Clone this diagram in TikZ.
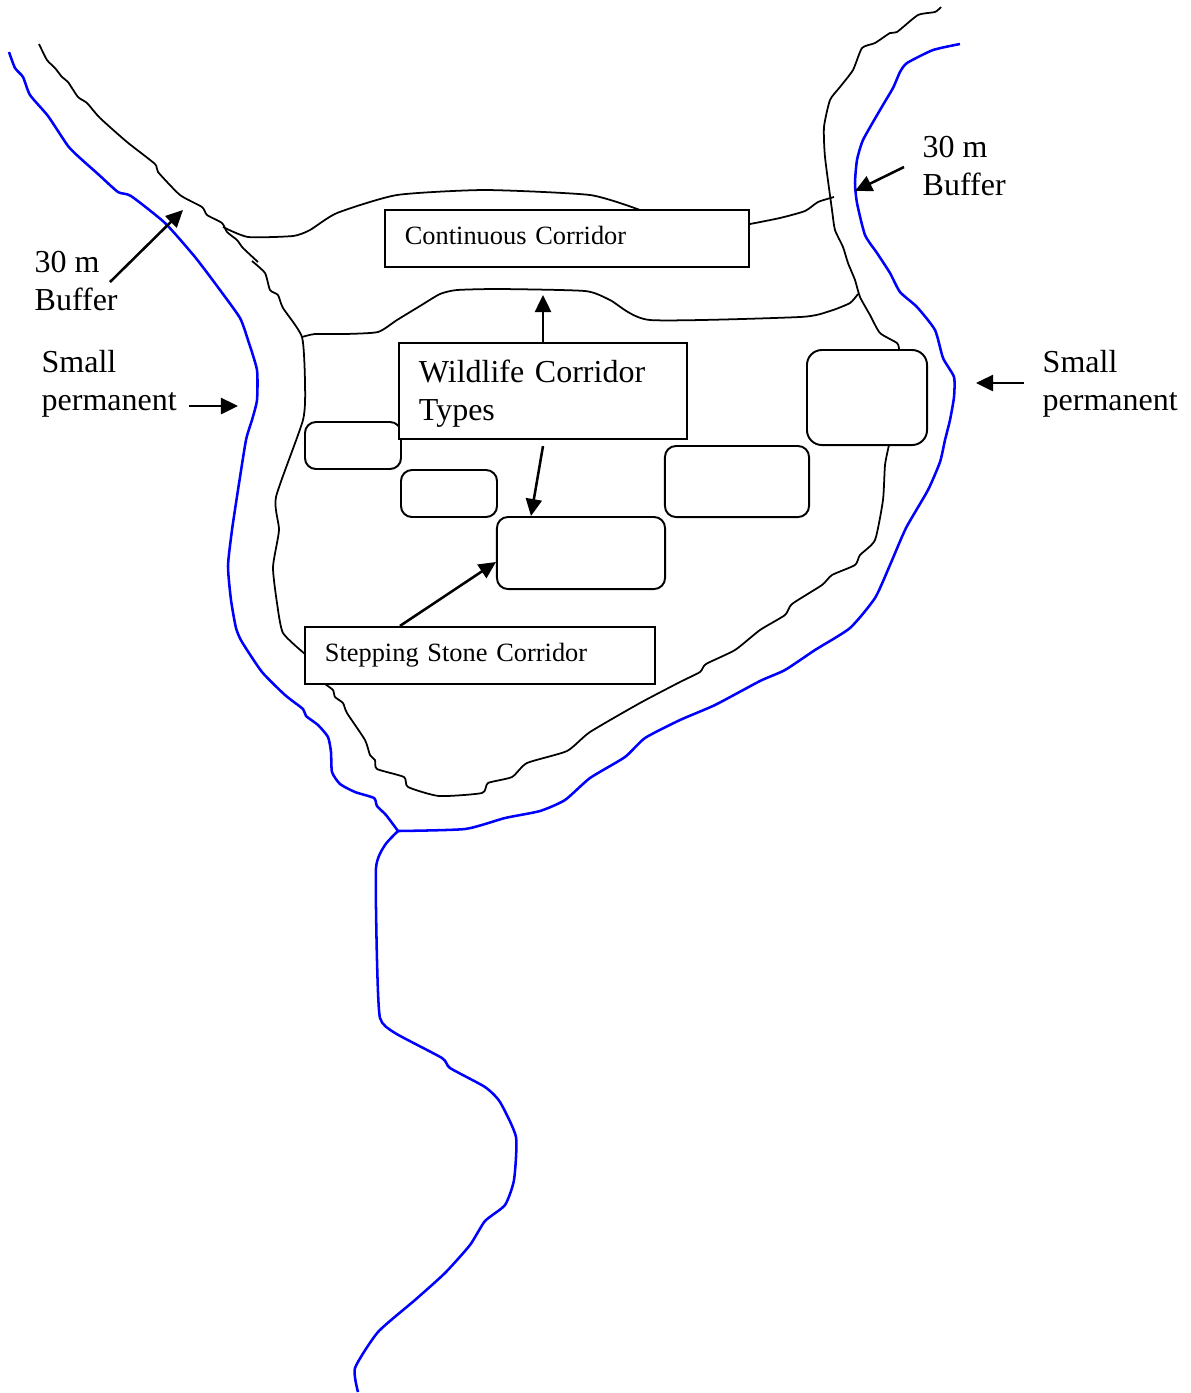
\documentclass[tikz,border=0pt]{standalone}
\usepackage{fontspec}
\setmainfont{Liberation Serif}
\usetikzlibrary{arrows.meta}
\tikzset{
    stream/.style={draw=blue, line width=0.72pt, line join=round, smooth, tension=0.35},
    margin/.style={draw=black, line width=0.5pt, line join=round, smooth, tension=0.35},
    labelbox/.style={rectangle, draw, fill=white, line width=0.6pt, align=left, inner xsep=0.2cm, inner ysep=0pt},
    patchbox/.style={rectangle, draw, fill=white, line width=0.55pt, rounded corners=0.11cm},
    sidelabel/.style={align=left, anchor=west, inner sep=0pt, font=\fontsize{9.1}{10.8}\selectfont},
    pointer/.style={line width=0.72pt, -{Triangle[length=0.17cm,width=0.16cm]}}
}
\begin{document}
\begin{tikzpicture}[x=0.01cm, y=-0.01cm]
    \useasboundingbox (0,0) rectangle (1191,1393);
    % river
    \draw[stream] plot coordinates {(9,52) (15,68) (23,77) (30,95) (48,116) (68,146) (80,158) (98,174) (118,192) (131,196) (165,223) (195,257) (220,290) (240,318) (248,340) (257,370) (257,400) (252,420) (246,440) (238,490) (232,530) (228,566) (231,600) (236,628) (242,642) (262,672) (285,695) (303,709) (306,716) (318,725) (328,737) (331,752) (332,772) (340,784) (355,792) (374,798) (377,806) (386,815) (398,831)};
    \draw[stream] plot coordinates {(398,831) (465,829) (505,818) (540,811) (565,800) (590,778) (625,757) (645,738) (680,720) (715,705) (760,681) (785,670) (815,650) (850,628) (875,598) (890,565) (906,528) (928,490) (940,462) (945,440) (950,420) (954,397) (954,377) (943,358) (935,330) (917,307) (900,292) (890,273) (877,253) (865,235) (857,203) (855,183) (857,160) (863,140) (880,110) (893,88) (900,72) (907,63) (933,50) (960,44)};
    \draw[stream] plot coordinates {(398,831) (385,845) (376,868) (377,960) (380,1018) (395,1033) (442,1058) (450,1068) (485,1087) (500,1102) (516,1137) (514,1180) (505,1205) (485,1221) (470,1245) (445,1273) (415,1300) (378,1332) (355,1368) (358,1392)};
    % buffer edge
    \draw[margin] plot coordinates {(39,44) (47,60) (55,68) (62,77) (68,82) (78,97) (87,103) (100,118) (127,142) (155,164) (158,172) (180,195) (202,207) (207,215) (222,223) (227,232) (237,240) (243,248) (258,262)};
    \draw[margin] plot coordinates {(252,261) (265,273) (270,290) (278,295) (283,308) (302,337) (305,383) (303,420) (276,497) (279,530) (273,567) (277,603) (283,633) (305,654)};
    \draw[margin] plot coordinates {(325,684) (333,690) (335,697) (343,703) (347,713) (365,740) (370,755) (375,760) (377,769) (404,777) (408,787) (439,796) (482,793) (488,783) (512,777) (527,763) (567,751) (590,732) (640,703) (680,682) (700,672) (706,664) (735,650) (760,630) (785,615) (792,604) (822,585) (832,575) (855,565) (860,555) (875,540) (883,500) (885,465) (889,445)};
    \draw[margin] plot coordinates {(941,7) (935,12) (918,15) (897,32) (890,33) (875,43) (862,48) (853,70) (840,87) (830,100) (824,127) (825,157) (832,210) (835,230) (843,247) (848,263) (855,280) (860,297) (870,315) (880,333) (897,343) (899,349)};
    % continuous corridor edges
    \draw[margin] plot coordinates {(223,227) (248,237) (293,236) (310,230) (337,213) (397,195) (485,190) (590,195) (640,210)};
    \draw[margin] plot coordinates {(750,224) (780,218) (805,211) (818,202) (834,197)};
    \draw[margin] plot coordinates {(302,337) (315,334) (345,334) (378,332) (397,320) (420,306) (440,294) (457,290) (500,289) (585,291) (610,300) (650,320) (800,317) (830,311) (850,303) (858,294)};
    % stepping stones
    \node (stonea) [patchbox, minimum width=0.96cm, minimum height=0.47cm] at (353,445.5) {};
    \node (stoneb) [patchbox, minimum width=0.96cm, minimum height=0.47cm] at (449,493.5) {};
    \node (stonec) [patchbox, minimum width=1.68cm, minimum height=0.72cm] at (581,553) {};
    \node (stoned) [patchbox, minimum width=1.44cm, minimum height=0.71cm] at (737,481.5) {};
    \node (stonee) [patchbox, minimum width=1.20cm, minimum height=0.95cm, rounded corners=0.15cm] at (867,397.5) {};
    % text boxes
    \node (continuous) [labelbox, text width=3.24cm, minimum height=0.57cm, font=\fontsize{7.5}{9}\selectfont] at (567,238.5) {\rule[-1.7pt]{0pt}{0pt}Continuous Corridor};
    \node (types) [labelbox, text width=2.48cm, minimum height=0.96cm, font=\fontsize{9.1}{11}\selectfont] at (543,391) {\rule{0pt}{7.9pt}Wildlife Corridor\\Types};
    \node (stepping) [labelbox, text width=3.10cm, minimum height=0.57cm, font=\fontsize{7.5}{9}\selectfont] at (480,655.5) {Stepping Stone Corridor};
    % side labels
    \node (bufferl) [sidelabel] at (34,281) {30 m\\Buffer};
    \node (bufferr) [sidelabel] at (922,166) {30 m\\Buffer};
    \node (smalll) [sidelabel] at (41,384) {Small\\permanent};
    \node (smallr) [sidelabel] at (1042,384) {Small\\permanent};
    % free arrow ends
    \coordinate (bufferltip) at (183,210);
    \coordinate (bufferrtip) at (855,191);
    \coordinate (smallltip) at (238,406);
    \coordinate (smallrtip) at (976,383);
    \coordinate (typestip) at (543,295);
    \draw[pointer] (110,282) -- (bufferltip);
    \draw[pointer] (904,167) -- (bufferrtip);
    \draw[pointer] (189,406) -- (smallltip);
    \draw[pointer] (1024,383) -- (smallrtip);
    \draw[pointer] (types.north) -- (typestip);
    \draw[pointer] ([yshift=-0.06cm]types.south) -- ([xshift=-0.5cm]stonec.north);
    \draw[pointer] ([xshift=-0.8cm]stepping.north) -- ([yshift=-0.09cm]stonec.west);
\end{tikzpicture}
\end{document}
